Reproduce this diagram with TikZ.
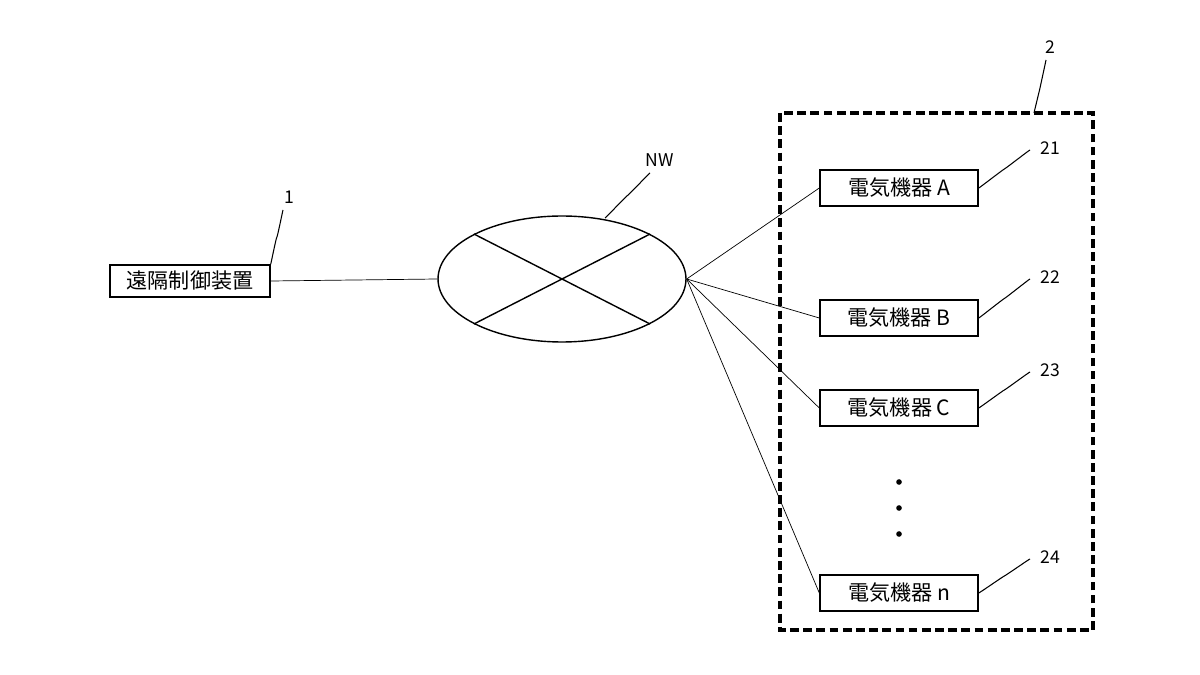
\documentclass[tikz,border=0pt]{standalone}
\usepackage{fontspec}
\setmainfont{Noto Sans CJK JP}
\usetikzlibrary{positioning,calc,shapes.geometric}
\tikzset{
  box/.style={draw, line width=0.8pt, minimum width=3.16cm, minimum height=0.72cm, inner sep=0pt, font=\large},
  lead/.style={line width=0.6pt},
  wire/.style={line width=0.4pt},
  num/.style={font=\normalsize}
}
\newcommand{\squig}[2]{\draw[lead] (#1) .. controls +(0.05,0.45) and +(-0.55,-0.05) .. ($(#1)!0.5!(#2)$) .. controls +(0.55,0.05) and +(-0.05,-0.45) .. (#2);}
\begin{document}
\begin{tikzpicture}[x=0.02cm,y=-0.02cm]
\useasboundingbox (0,0) rectangle (1200,675);

\def\xd{899};

% remote controller
\node[box, minimum width=3.2cm, minimum height=0.64cm] (ctl) at (190,281) {遠隔制御装置};
\node[num] (n1) at (289,197) {1};
\coordinate (c1) at (283,210);
\squig{ctl.north east}{c1}

% network
\node[draw, ellipse, line width=0.8pt, minimum width=4.96cm, minimum height=2.52cm] (nw) at (562,279) {};
\draw[line width=0.8pt] (nw.north west) -- (nw.south east);
\draw[line width=0.8pt] (nw.south west) -- (nw.north east);
\node[num] (lnw) at (660,160) {NW};
\coordinate (cnw) at (650,173);
\coordinate (nwtop) at (605,218);
\squig{nwtop}{cnw}

\draw[wire] (ctl.east) -- (nw.west);

% group of devices
\draw[line width=1.8pt, dash pattern=on 5pt off 2.5pt] (780,113) rectangle (1093,630);
\node[num] (n2) at (1050,47) {2};
\coordinate (c2a) at (1034,113);
\coordinate (c2b) at (1046,60);
\draw[lead] (c2a) .. controls +(0,-0.3) and +(0,0.1) .. (1040,88) .. controls +(0,-0.1) and +(0,0.3) .. (c2b);

\node[box] (da) at (\xd,188) {電気機器 A};
\node[box] (db) at (\xd,318) {電気機器 B};
\node[box] (dc) at (\xd,408) {電気機器 C};
\node[box] (dn) at (\xd,593) {電気機器 n};

\foreach \d/\y/\t in {da/148/21, db/277/22, dc/370/23, dn/557/24}{
  \node[num] (l\t) at (1050,\y) {\t};
  \coordinate (c\t) at (1030,\y+2);
  \squig{\d.east}{c\t}
}

\foreach \y in {482,508,534}
  \fill (\xd,\y) circle (1.6pt);

\foreach \d in {da,db,dc,dn}
  \draw[wire] (nw.east) -- (\d.west);

\end{tikzpicture}
\end{document}
